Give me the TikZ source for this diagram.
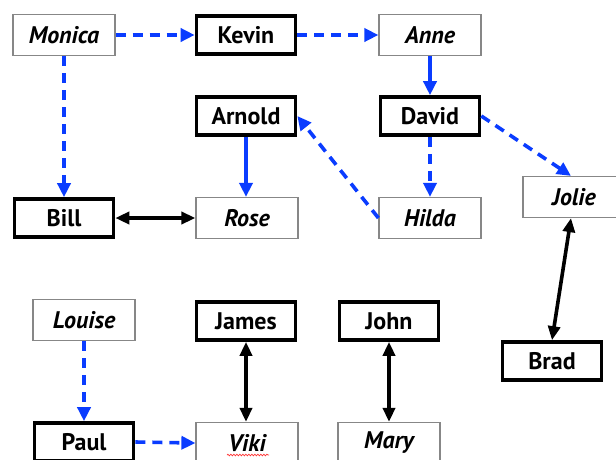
\documentclass[tikz,border=0pt]{standalone}
\usepackage{fontspec}
\setmainfont{PT Sans}
\usetikzlibrary{arrows.meta,decorations.pathmorphing}
\definecolor{lblue}{RGB}{10,60,255}
\definecolor{gborder}{RGB}{135,135,135}
\begin{document}
\begin{tikzpicture}[x=1pt,y=-1pt,
  base/.style={inner sep=0pt, fill=white},
  thinbox/.style={base, draw=gborder, line width=1.2pt, minimum width=102pt, minimum height=41pt,
    font=\fontsize{24}{26}\selectfont\bfseries\itshape},
  thickbox/.style={base, draw=black, line width=3.6pt, minimum width=99pt, minimum height=38pt,
    font=\fontsize{24}{26}\selectfont\bfseries},
  bluedash/.style={draw=lblue, line width=3.6pt, dash pattern=on 10pt off 7pt,
    -{Triangle[length=14pt,width=13pt,fill=lblue]}},
  bluesolid/.style={draw=lblue, line width=3.6pt,
    -{Triangle[length=14pt,width=13pt,fill=lblue]}},
  blackboth/.style={draw=black, line width=3.6pt,
    {Triangle[length=14pt,width=12pt]}-{Triangle[length=14pt,width=12pt]}}
]
\useasboundingbox (0,0) rectangle (616,459);
\fill[white] (0,0) rectangle (616,459);

\node[thinbox]  (Monica) at (64,35)   {Monica};
\node[thickbox] (Kevin)  at (246,35)  {Kevin};
\node[thinbox]  (Anne)   at (430,35)  {Anne};
\node[thickbox] (Arnold) at (246,116) {Arnold};
\node[thickbox] (David)  at (430,116) {David};
\node[thickbox] (Bill)   at (64,218)  {Bill};
\node[thinbox]  (Rose)   at (247,218) {Rose};
\node[thinbox]  (Hilda)  at (430,218) {Hilda};
\node[thinbox]  (Jolie)  at (574,197) {Jolie};
\node[thinbox]  (Louise) at (84,320)  {Louise};
\node[thickbox] (James)  at (246,321) {James};
\node[thickbox] (John)   at (389,321) {John};
\node[thickbox] (Brad)   at (552,361) {Brad};
\node[thickbox] (Paul)   at (84,442)  {Paul};
\node[thinbox]  (Viki)   at (247,443) {Viki};
\node[thinbox]  (Mary)   at (389,443) {Mary};

\draw[red!80, line width=0.7pt, decorate, decoration={snake, amplitude=0.8pt, segment length=3pt}]
  ([xshift=-20pt,yshift=-12pt]Viki.center) -- ([xshift=22pt,yshift=-12pt]Viki.center);

\draw[bluedash]  (Monica.east) -- (Kevin.west);
\draw[bluedash]  (Kevin.east) -- (Anne.west);
\draw[bluesolid] (Anne.south) -- (David.north);
\draw[bluedash]  (Monica.south) -- (Bill.north);
\draw[bluesolid] (Arnold.south) -- (Rose.north -| Arnold.south);
\draw[bluedash]  (David.south) -- (Hilda.north);
\draw[bluedash]  (Hilda.west) -- (Arnold.east);
\draw[bluedash]  (David.east) -- ([xshift=-3pt]Jolie.north);
\draw[blackboth] (Bill.east) -- (Rose.west);
\draw[blackboth] ([xshift=-3pt]Jolie.south) -- (Brad.north);
\draw[blackboth] (James.south) -- (Viki.north -| James.south);
\draw[blackboth] (John.south) -- (Mary.north);
\draw[bluedash]  (Louise.south) -- (Paul.north);
\draw[bluedash]  (Paul.east) -- (Viki.west);
\end{tikzpicture}
\end{document}
